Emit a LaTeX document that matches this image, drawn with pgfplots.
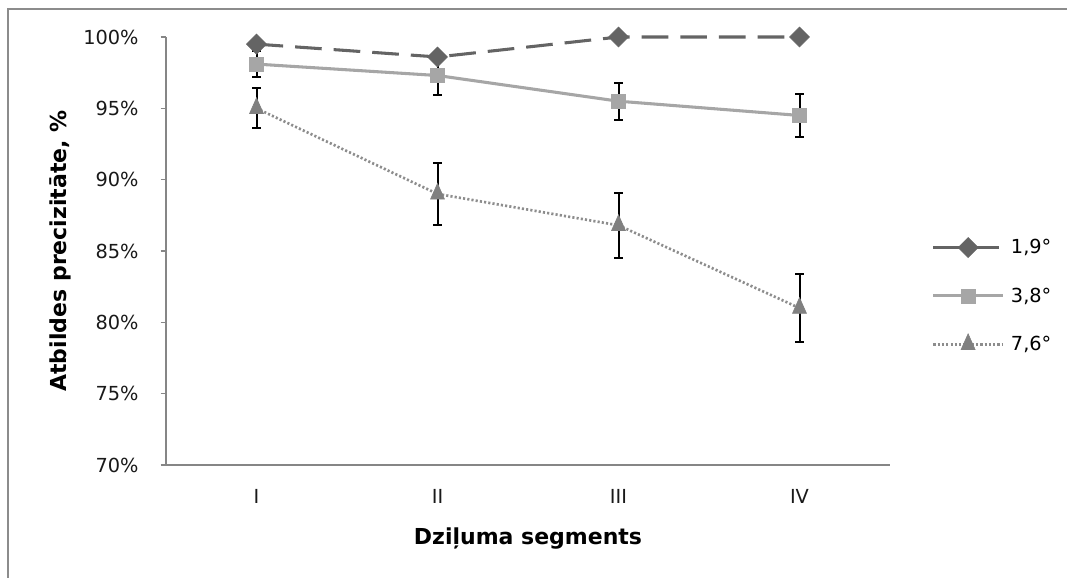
\documentclass[border=0pt]{standalone}
\usepackage{pgfplots}
\pgfplotsset{compat=1.18}
\usepackage{fontspec}
\setmainfont{DejaVu Sans}
\definecolor{framegray}{HTML}{8C8C8C}
\definecolor{axgray}{HTML}{868686}
\definecolor{cA}{HTML}{646464}
\definecolor{cB}{HTML}{A6A6A6}
\definecolor{cC}{HTML}{808080}
\begin{document}
\begin{tikzpicture}
\path[use as bounding box] (0pt,0pt) rectangle (800.25pt,433.5pt);
\draw[color=framegray, line width=1.1pt] (6pt,0pt) -- (6pt,426.75pt) -- (800.25pt,426.75pt);
\begin{axis}[
  at={(124.5pt,84.75pt)}, anchor=south west,
  scale only axis, width=543pt, height=321pt,
  xmin=0.5, xmax=4.5, ymin=70, ymax=100,
  axis x line=bottom, axis y line=left,
  axis line style={-, axgray, line width=0.9pt},
  xtick={1,2,3,4}, xticklabels={I,II,III,IV},
  extra x ticks={0.5,1.5,2.5,3.5,4.5}, extra x tick labels={},
  extra x tick style={major tick length=5pt, tick style={axgray, line width=0.9pt}},
  x tick style={draw=none},
  ytick={70,75,...,100},
  yticklabel={\pgfmathprintnumber{\tick}\%},
  /pgf/number format/assume math mode=true,
  y tick style={axgray, line width=0.9pt},
  tick align=outside, major tick length=4pt,
  ticklabel style={font=\fontsize{14.5}{16}\selectfont, text=black!90},
  xticklabel style={yshift=-11pt},
  yticklabel style={xshift=-13pt},
  xlabel={Dziļuma segments}, ylabel={Atbildes precizitāte, \%},
  label style={font=\bfseries\fontsize{16.5}{19}\selectfont},
  xlabel style={yshift=-2pt},
  ylabel style={yshift=2pt},
  legend style={at={(1.052,0.395)}, anchor=west, draw=none, fill=none,
    font=\fontsize{14.5}{16}\selectfont, row sep=20pt, cells={anchor=west},
    nodes={inner xsep=5pt}},
  legend cell align=left,
  legend image code/.code={\draw[mark repeat=2,mark phase=2] plot coordinates {(0pt,0pt)(26pt,0pt)(52pt,0pt)};},
  clip=false,
  error bars/error bar style={black, solid, line width=1.5pt},
  error bars/error mark options={black, solid, rotate=90, mark size=3.2pt, line width=1.5pt},
]
\addplot[cA, line width=2.3pt, dash pattern=on 20pt off 9pt, mark=square*, mark size=5.3pt,
  mark options={solid, rotate=45, fill=cA, draw=cA, line width=0.5pt}]
  coordinates {(1,99.5) (2,98.6) (3,100) (4,100)};
\addlegendentry{1,9°}
\addplot[cB, line width=2.3pt, mark=square*, mark size=5.2pt,
  mark options={solid, fill=cB, draw=cB, line width=0.5pt},
  error bars/.cd, y dir=both, y explicit]
  coordinates {(1,98.1) +- (0,0.9) (2,97.3) +- (0,1.4) (3,95.5) +- (0,1.3) (4,94.5) +- (0,1.5)};
\addlegendentry{3,8°}
\addplot[cC!90, line width=2pt, dash pattern=on 1.6pt off 1.6pt, mark=triangle*, mark size=6pt,
  mark options={solid, yscale=1.3, fill=cC, draw=cC, line width=0.5pt},
  error bars/.cd, y dir=both, y explicit]
  coordinates {(1,95.0) +- (0,1.4) (2,89.0) +- (0,2.2) (3,86.8) +- (0,2.3) (4,81.0) +- (0,2.4)};
\addlegendentry{7,6°}
\end{axis}
\end{tikzpicture}
\end{document}
